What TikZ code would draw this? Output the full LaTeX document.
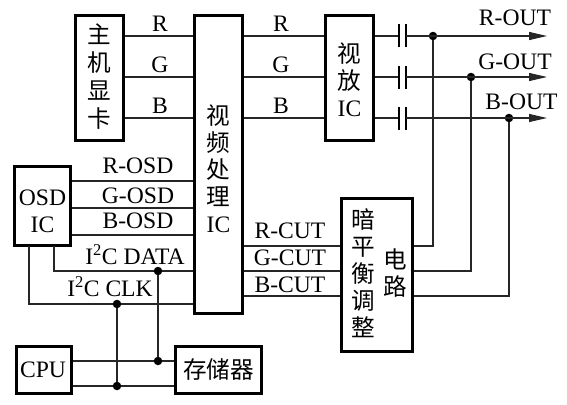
\documentclass[tikz,border=0pt]{standalone}
\usepackage{fontspec}
\setmainfont{Liberation Serif}
\newfontfamily\cjk{Noto Sans CJK SC}
\usetikzlibrary{arrows.meta}
\tikzset{
  blockbox/.style={draw,line width=2.2pt,inner sep=0pt,fill=white},
  wire/.style={line width=1.1pt,black!85},
  capbar/.style={line width=2.2pt},
  jdot/.style={circle,fill=black,inner sep=0pt,minimum size=8.5pt},
  lbl/.style={font=\fontsize{23.6}{27}\selectfont,inner sep=0pt,align=center},
}
\begin{document}
\begin{tikzpicture}[x=1pt,y=-1pt]
\useasboundingbox (0,0) rectangle (567,404);
% blocks
\node[blockbox,minimum width=48pt,minimum height=125pt] (host) at (99.5,78) {};
\node[blockbox,minimum width=48pt,minimum height=298pt] (vproc) at (218.5,164.5) {};
\node[blockbox,minimum width=48pt,minimum height=125pt] (vamp) at (349.5,78) {};
\node[blockbox,minimum width=56pt,minimum height=79pt] (osd) at (42.5,206) {};
\node[blockbox,minimum width=55pt,minimum height=47pt] (cpu) at (44,370) {};
\node[blockbox,minimum width=86pt,minimum height=47pt] (mem) at (218.5,370) {};
\node[blockbox,minimum width=71pt,minimum height=153pt] (dark) at (377,275) {};
% block texts
\node[lbl] (hosttxt) at (99.5,77) {\cjk 主\\[1pt]\cjk 机\\[1pt]\cjk 显\\[1pt]\cjk 卡};
\node[lbl] (vproctxt) at (218.5,169) {\cjk 视\\\cjk 频\\\cjk 处\\\cjk 理\\IC};
\node[lbl] (vamptxt) at (349.5,80) {\cjk 视\\\cjk 放\\IC};
\node[lbl] (osdtxt) at (42.5,211) {OSD\\IC};
\node[lbl] (cputxt) at (43,370) {CPU};
\node[lbl] (memtxt) at (218.5,370) {\cjk 存储器};
\node[lbl] (darktxt) at (363,273.5) {\cjk 暗\\\cjk 平\\\cjk 衡\\\cjk 调\\\cjk 整};
\node[lbl] (circtxt) at (395,273.5) {\cjk 电\\\cjk 路};
% video rows
\foreach \rowname/\rowy/\rowx/\rowtxt/\outx/\outy in {r/36/433/R/515/18,g/77/471/G/515/62,b/118/509/B/521.5/102}{
  \draw[wire] (host.east |- 0,\rowy) -- (vproc.west |- 0,\rowy);
  \draw[wire] (vproc.east |- 0,\rowy) -- (vamp.west |- 0,\rowy);
  \node[lbl] (in\rowname) at (160,\rowy-12) {\rowtxt};
  \node[lbl] (mid\rowname) at (281,\rowy-12) {\rowtxt};
  \coordinate (capa\rowname) at (399,\rowy);
  \coordinate (capb\rowname) at (406,\rowy);
  \coordinate (end\rowname) at (547,\rowy);
  \node[jdot] (dot\rowname) at (\rowx,\rowy) {};
  \draw[wire] (vamp.east |- capa\rowname) -- (capa\rowname);
  \draw[capbar] ([yshift=-11.5pt]capa\rowname) -- ([yshift=11.5pt]capa\rowname);
  \draw[capbar] ([yshift=-11.5pt]capb\rowname) -- ([yshift=11.5pt]capb\rowname);
  \draw[wire,-{Triangle[length=18pt,width=8pt]}] (capb\rowname) -- (end\rowname);
  \node[lbl] (out\rowname) at (\outx,\outy) {\rowtxt-OUT};
}
% feedback from dark balance block
\foreach \rowname/\rowy/\cuty/\rowtxt in {r/246/231/R,g/271/258/G,b/296/285/B}{
  \draw[wire] (vproc.east |- 0,\rowy) -- (dark.west |- 0,\rowy);
  \draw[wire] (dark.east |- 0,\rowy) -| (dot\rowname);
  \node[lbl] (cut\rowname) at (290,\cuty) {\rowtxt-CUT};
}
% osd rows
\foreach \rowname/\rowy/\laby/\rowtxt in {r/181/166/R,g/208/196/G,b/235/221/B}{
  \draw[wire] (osd.east |- 0,\rowy) -- (vproc.west |- 0,\rowy);
  \node[lbl] (osd\rowname) at (138,\laby) {\rowtxt-OSD};
}
% i2c bus
\coordinate (sdaout) at (54,246);
\coordinate (sclout) at (29,246);
\draw[wire] (sdaout) |- (vproc.west |- 0,271);
\draw[wire] (sclout) |- (vproc.west |- 0,304);
\node[lbl] (sdatxt) at (135,255) {I\textsuperscript{2}C DATA};
\node[lbl] (scltxt) at (110,287) {I\textsuperscript{2}C CLK};
\draw[wire] (cpu.east |- 0,361) -- (mem.west |- 0,361);
\draw[wire] (cpu.east |- 0,386) -- (mem.west |- 0,386);
\node[jdot] (sdatop) at (158,271) {};
\node[jdot] (sdabot) at (158,361) {};
\node[jdot] (scltop) at (117,304) {};
\node[jdot] (sclbot) at (117,386) {};
\draw[wire] (sdatop) -- (sdabot);
\draw[wire] (scltop) -- (sclbot);
\end{tikzpicture}
\end{document}
